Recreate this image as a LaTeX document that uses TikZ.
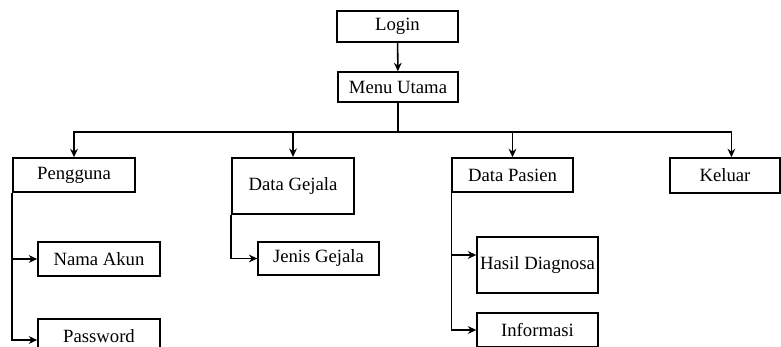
\documentclass[tikz,border=0pt]{standalone}
\usepackage{fontspec}
\setmainfont{Liberation Serif}
\usetikzlibrary{shapes,arrows,arrows.meta,positioning}

\begin{document}
\begin{tikzpicture}[
        x=0.025cm, y=-0.025cm,
        menu/.style={rectangle, draw=black, line width=1.1pt, fill=white, minimum width=3.05cm, minimum height=0.85cm, align=center, font=\fontsize{13.3}{15}\selectfont, inner sep=2pt},
        arrow/.style={-{Stealth[length=6pt,width=5.5pt]}, line width=1.1pt}
    ]
    \useasboundingbox (0,0) rectangle (781,347);
    \clip (0,0) rectangle (781,347);

    % Top
    \node[menu, minimum width=3.02cm, minimum height=0.78cm] (login) at (397.5,26.5) {Login};
    \node[menu, minimum width=3.0cm, minimum height=0.75cm] (utama) at (398,87) {Menu Utama};

    % Main menu items
    \node[menu] (pengguna) at (74,175) {Pengguna};
    \node[menu, minimum height=1.4cm, line width=1.5pt] (gejala) at (293,186) {Data Gejala};
    \node[menu, minimum width=3.02cm] (pasien) at (512.5,175) {Data Pasien};
    \node[menu, minimum width=2.75cm, minimum height=0.87cm, line width=1.3pt] (keluar) at (725,175.5) {Keluar};

    % Sub items
    \node[menu] (akun) at (99,259) {Nama Akun};
    \node[menu] (password) at (99,336) {Password};
    \node[menu, minimum width=3.02cm, minimum height=0.83cm] (jenis) at (318.5,258.5) {Jenis Gejala};
    \node[menu, minimum width=3.02cm, minimum height=1.4cm] (hasil) at (537.5,265) {Hasil Diagnosa};
    \node[menu, minimum width=3.02cm] (informasi) at (537.5,330) {Informasi};

    % Arrows
    \coordinate (bus) at (398,132);
    \draw[arrow] (login) -- (utama);
    \draw[line width=1.1pt] (utama) -- (bus);
    \draw[arrow] (bus) -| (pengguna);
    \draw[arrow] (bus) -| (gejala);
    \draw[arrow] (bus) -| (pasien);
    \draw[arrow] (bus) -| ([xshift=0.16cm]keluar.north);

    \draw[arrow] (pengguna.south west) |- (akun);
    \draw[arrow] (pengguna.south west) |- ([yshift=-0.1cm]password.west);
    \draw[arrow] (gejala.south west) |- (jenis);
    \draw[arrow] (pasien.south west) |- ([yshift=0.25cm]hasil.west);
    \draw[arrow] (pasien.south west) |- (informasi);

\end{tikzpicture}
\end{document}
